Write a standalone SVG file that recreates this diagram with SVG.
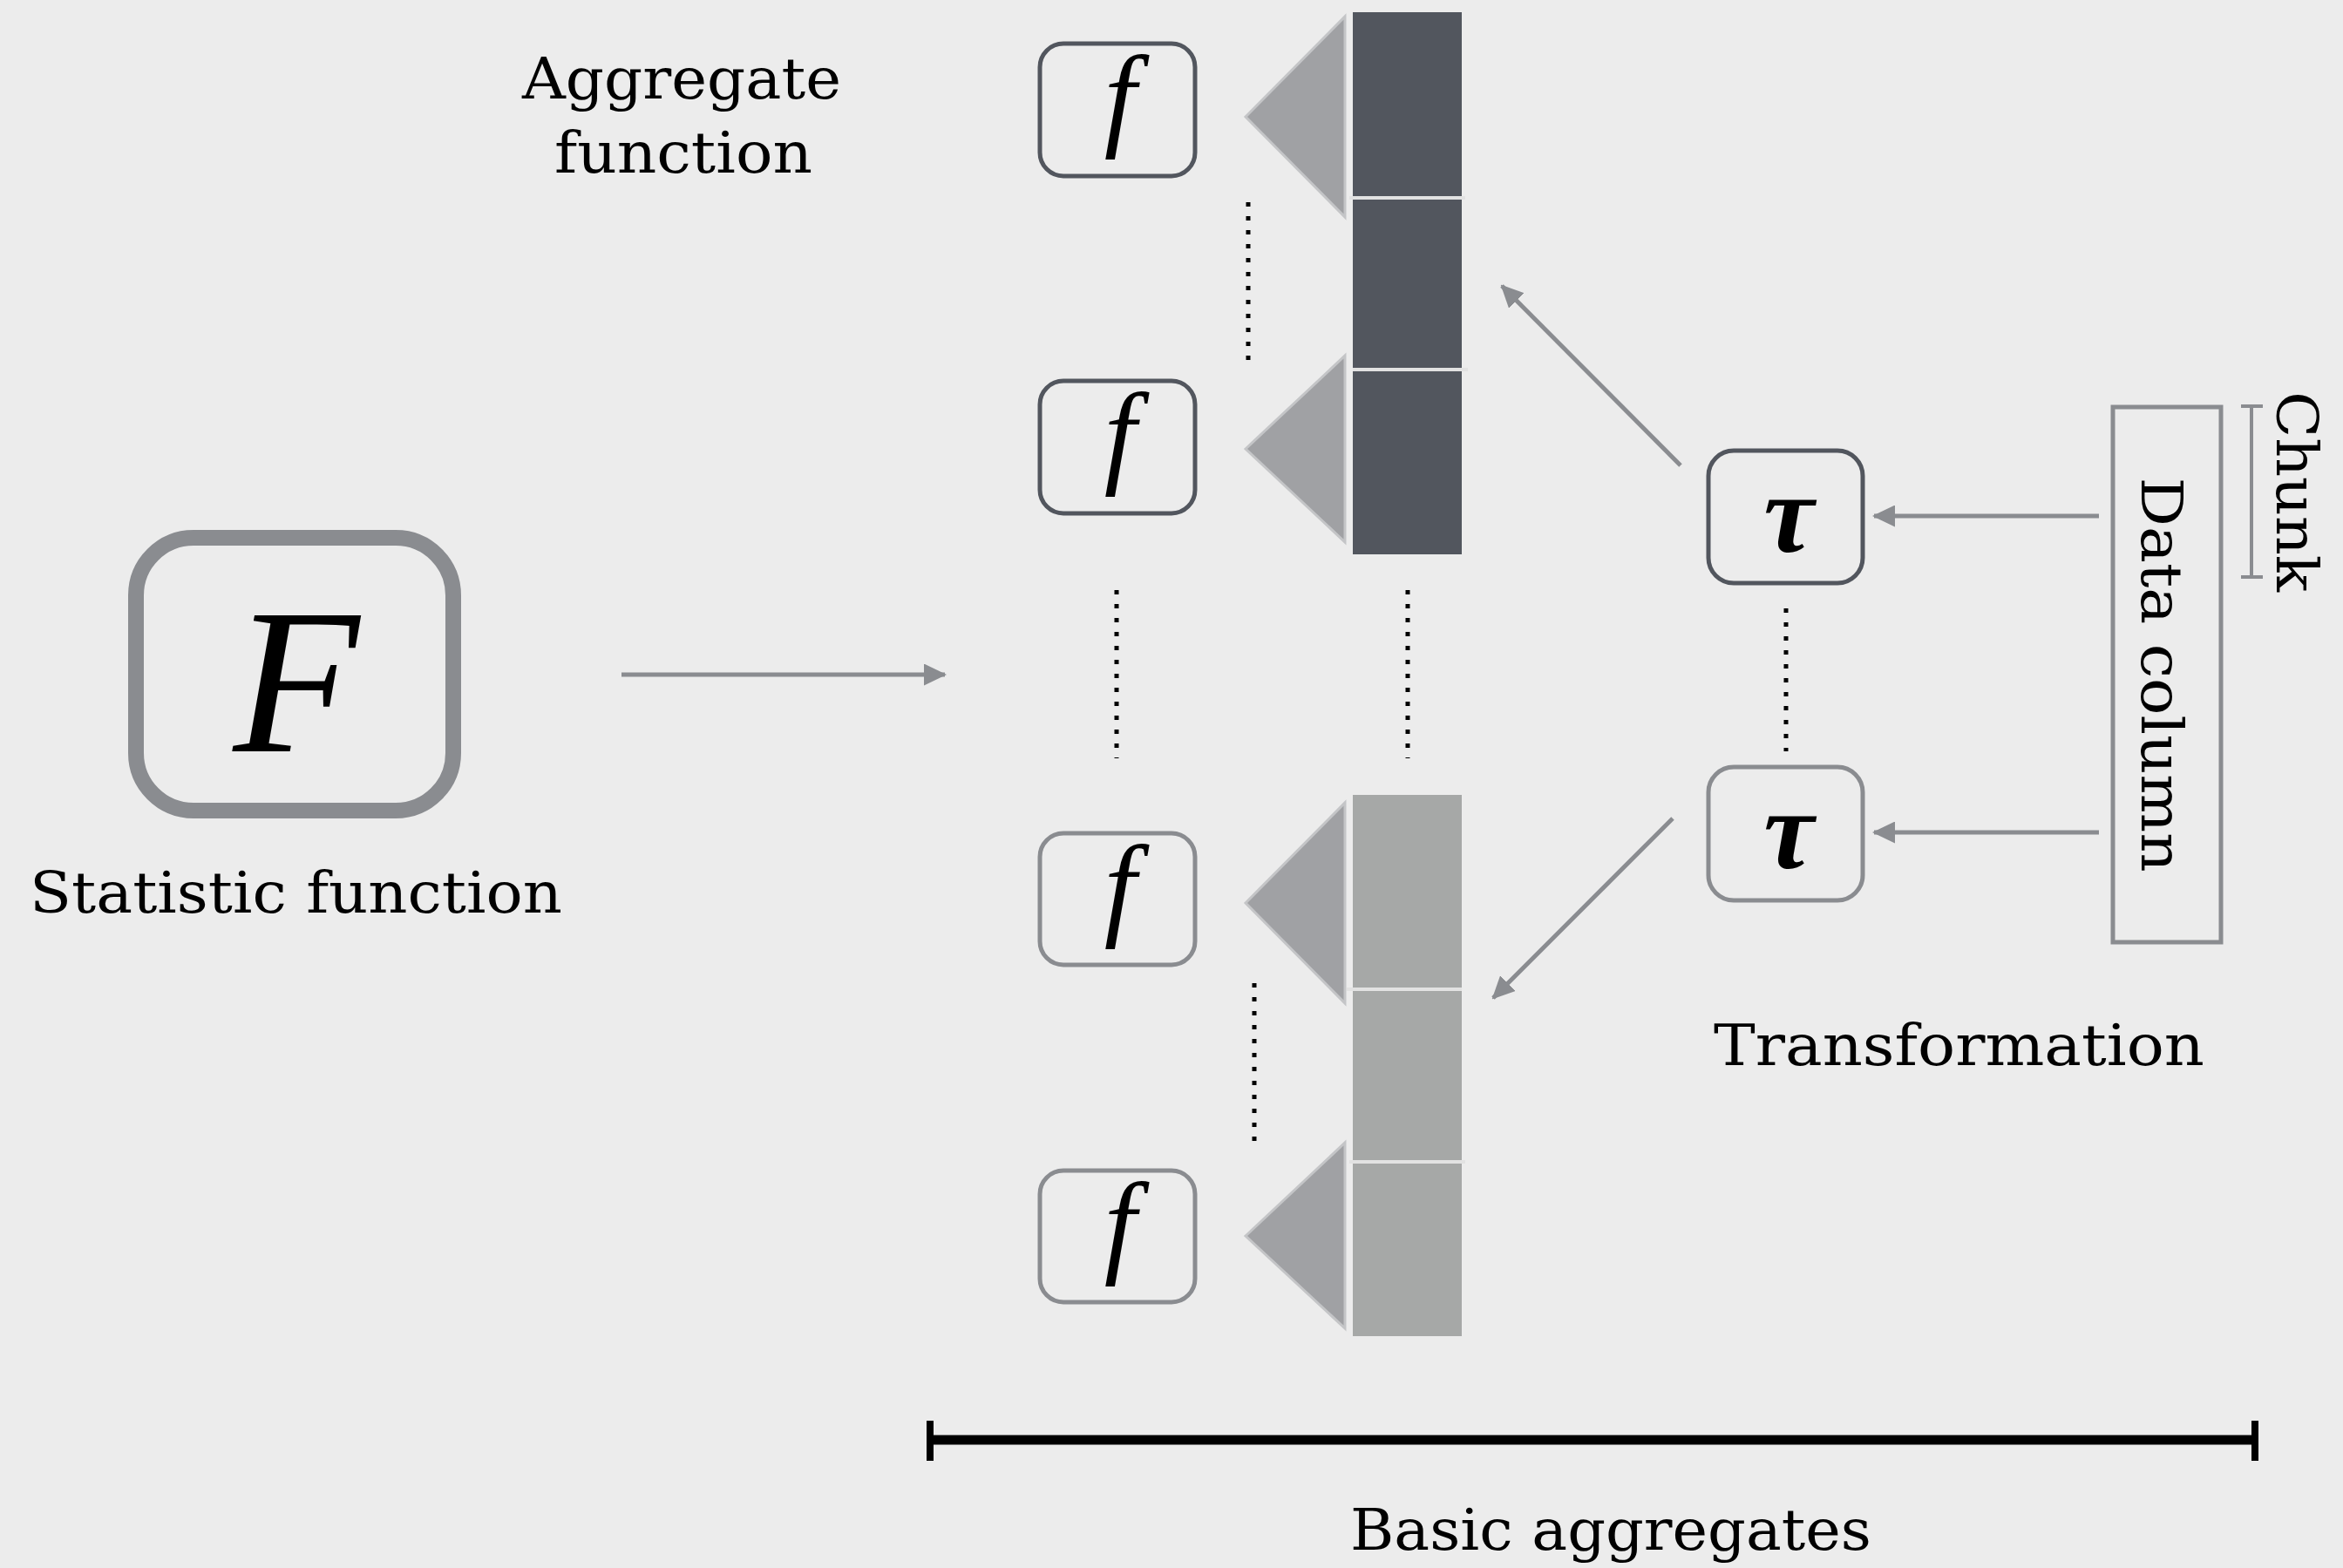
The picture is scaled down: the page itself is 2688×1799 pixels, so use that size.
<svg xmlns="http://www.w3.org/2000/svg" width="2688" height="1799" viewBox="0 0 2688 1799">
<defs>
<marker id="ah" viewBox="0 0 26 25" refX="24" refY="12.5" markerWidth="26" markerHeight="25" markerUnits="userSpaceOnUse" orient="auto">
<path d="M0,0 L26,12.5 L0,25 Z" fill="#8a8c90"/>
</marker>
<style>
.lbl{font-family:"DejaVu Serif","Liberation Serif",serif;font-size:66px;fill:#000}
.fbox{fill:none;stroke-width:5}
.dark{stroke:#52565e}
.light{stroke:#8a8c90}
.fsym{font-family:"Liberation Serif","DejaVu Serif",serif;font-style:italic;font-size:132px;fill:#000;text-anchor:middle}
.tau{font-family:"Liberation Serif","DejaVu Serif",serif;font-style:italic;font-weight:bold;font-size:130px;fill:#000;text-anchor:middle}
.tri{fill:#a0a1a4;stroke:#c4c5c7;stroke-width:3}
.sep{stroke:#e2e2e2;stroke-width:4}
.dots{stroke:#000;stroke-width:5;stroke-dasharray:5 11;fill:none}
.conn{stroke:#8a8c90;stroke-width:5;fill:none;marker-end:url(#ah)}
</style>
</defs>
<rect x="0" y="0" width="2688" height="1799" fill="#ececec"/>

<g id="statistic-function">
<rect x="156" y="617" width="364" height="313" rx="66" ry="66" fill="none" stroke="#8a8c90" stroke-width="18"/>
<text x="340" y="862" font-family="'Liberation Serif','DejaVu Serif',serif" font-style="italic" font-size="237" text-anchor="middle" fill="#000">F</text>
<text class="lbl" x="34" y="1047" textLength="611" lengthAdjust="spacingAndGlyphs">Statistic function</text>
</g>

<g id="aggregate-label">
<text class="lbl" x="599" y="113" textLength="366" lengthAdjust="spacingAndGlyphs">Aggregate</text>
<text class="lbl" x="636" y="198" textLength="296" lengthAdjust="spacingAndGlyphs">function</text>
</g>

<g id="f1">
<rect class="fbox dark" x="1193" y="50" width="178" height="152" rx="27"/>
<text class="fsym" x="1285" y="155">f</text>
</g>
<g id="f2">
<rect class="fbox dark" x="1193" y="437" width="178" height="152" rx="27"/>
<text class="fsym" x="1285" y="542">f</text>
</g>
<g id="f3">
<rect class="fbox light" x="1193" y="956" width="178" height="151" rx="27"/>
<text class="fsym" x="1285" y="1061">f</text>
</g>
<g id="f4">
<rect class="fbox light" x="1193" y="1343" width="178" height="151" rx="27"/>
<text class="fsym" x="1285" y="1448">f</text>
</g>

<g id="triangles">
<polygon class="tri" points="1429,134 1543,19 1543,249"/>
<polygon class="tri" points="1429,515 1543,408 1543,622"/>
<polygon class="tri" points="1429,1036 1543,921 1543,1151"/>
<polygon class="tri" points="1429,1418 1543,1311 1543,1524"/>
</g>

<g id="dark-aggregates">
<rect x="1552" y="14" width="125" height="622" fill="#52565e"/>
<line class="sep" x1="1548" y1="227" x2="1681" y2="227"/>
<line class="sep" x1="1552" y1="424" x2="1684" y2="424"/>
</g>
<g id="light-aggregates">
<rect x="1552" y="912" width="125" height="621" fill="#a6a8a7"/>
<line class="sep" x1="1545" y1="1135" x2="1677" y2="1135"/>
<line class="sep" x1="1548" y1="1333" x2="1681" y2="1333"/>
</g>

<g id="dotted">
<line class="dots" x1="1432" y1="232" x2="1432" y2="424"/>
<line class="dots" x1="1439" y1="1128" x2="1439" y2="1320"/>
<line class="dots" x1="1281" y1="677" x2="1281" y2="870"/>
<line class="dots" x1="1615" y1="677" x2="1615" y2="870"/>
<line class="dots" x1="2049" y1="698" x2="2049" y2="862"/>
</g>

<g id="tau1">
<rect class="fbox dark" x="1960" y="517" width="177" height="152" rx="29"/>
<text class="tau" x="2052" y="633">τ</text>
</g>
<g id="tau2">
<rect class="fbox light" x="1960" y="880" width="177" height="153" rx="29"/>
<text class="tau" x="2052" y="996">τ</text>
</g>

<g id="data-column">
<rect x="2424" y="467" width="124" height="614" fill="none" stroke="#8a8c90" stroke-width="5"/>
<text class="lbl" transform="translate(2457,774) rotate(90)" text-anchor="middle" font-size="72" textLength="453" lengthAdjust="spacingAndGlyphs">Data column</text>
</g>

<g id="chunk">
<line x1="2583" y1="465" x2="2583" y2="663" stroke="#8a8c90" stroke-width="4"/>
<line x1="2571" y1="466" x2="2596" y2="466" stroke="#8a8c90" stroke-width="4"/>
<line x1="2571" y1="662" x2="2596" y2="662" stroke="#8a8c90" stroke-width="4"/>
<text class="lbl" transform="translate(2612,564) rotate(90)" text-anchor="middle" font-size="70" textLength="230" lengthAdjust="spacingAndGlyphs">Chunk</text>
</g>

<g id="transformation-label">
<text class="lbl" x="1966" y="1222" textLength="563" lengthAdjust="spacingAndGlyphs">Transformation</text>
</g>

<g id="basic-aggregates">
<line x1="1063" y1="1652" x2="2591" y2="1652" stroke="#000" stroke-width="11"/>
<line x1="1067" y1="1630" x2="1067" y2="1676" stroke="#000" stroke-width="8"/>
<line x1="2587" y1="1630" x2="2587" y2="1676" stroke="#000" stroke-width="8"/>
<text class="lbl" x="1549" y="1778" textLength="598" lengthAdjust="spacingAndGlyphs">Basic aggregates</text>
</g>

<g id="connectors">
<line class="conn" x1="713" y1="774" x2="1084" y2="774"/>
<line class="conn" x1="2408" y1="592" x2="2150" y2="592"/>
<line class="conn" x1="2408" y1="955" x2="2150" y2="955"/>
<line class="conn" x1="1928" y1="534" x2="1723" y2="328"/>
<line class="conn" x1="1919" y1="939" x2="1713" y2="1145"/>
</g>
</svg>
